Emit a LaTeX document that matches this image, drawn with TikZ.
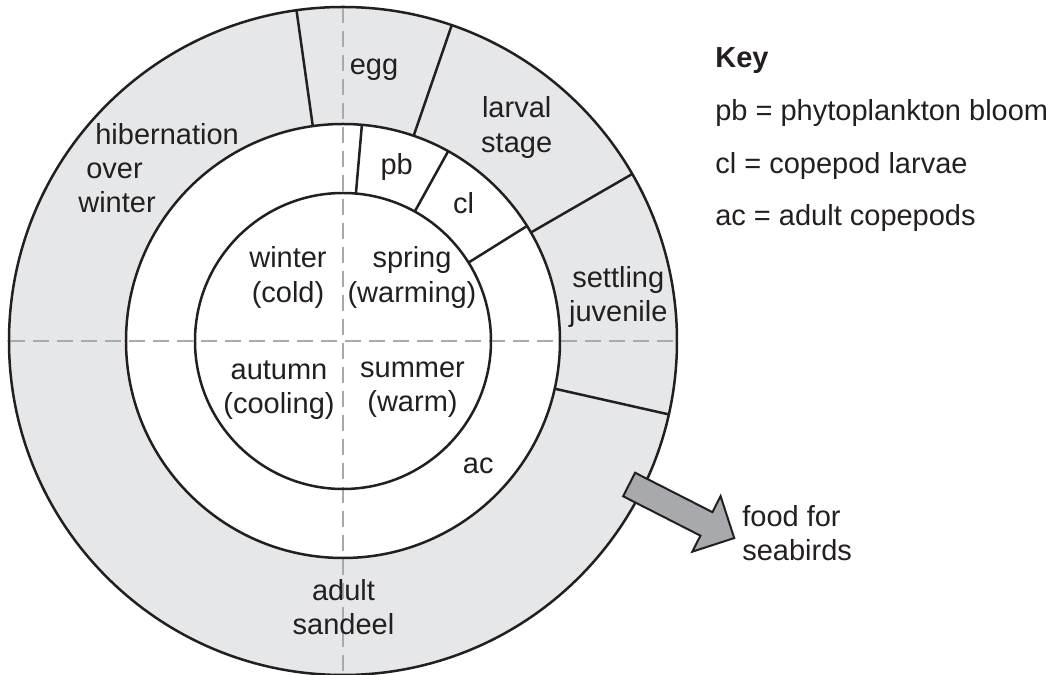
\documentclass[tikz,border=0pt]{standalone}
\usepackage{fontspec}
\setmainfont{Liberation Sans}
\usepackage{tikz}
\usetikzlibrary{shapes.arrows, positioning}

\definecolor{ink}{RGB}{35,31,32}
\definecolor{ringgray}{RGB}{230,231,232}
\definecolor{dashgray}{RGB}{167,169,172}
\definecolor{arrowgray}{RGB}{167,169,172}

\begin{document}
\begin{tikzpicture}[
		x=0.02cm, y=0.02cm,
		stagetext/.style={
			font=\fontsize{16.5}{19.4}\selectfont,
			text=ink,
			inner sep=0pt,
			align=center
		},
		keytext/.style={
			stagetext,
			anchor=base west
		},
		divider/.style={
			draw=ink,
			line width=0.05cm
		},
		season/.style={
			draw=dashgray,
			line width=0.05cm,
			dash pattern=on 0.32cm off 0.16cm
		},
		feed/.style={
			single arrow,
			draw=ink,
			fill=arrowgray,
			line width=0.04cm,
			inner xsep=0pt,
			inner ysep=0.244cm,
			minimum height=2.36cm,
			single arrow head extend=0.36cm
		}
	]

	\useasboundingbox (-343,-334) rectangle (713,341);

	\fill[ringgray] (0,0) circle[radius=334];
	\fill[white] (0,0) circle[radius=217];

	\draw[season] (90:334) -- (270:334);
	\draw[season] (180:334) -- (0:334);

	\draw[divider] (0,0) circle[radius=334];
	\draw[divider] (0,0) circle[radius=217];
	\draw[divider] (0,0) circle[radius=148];
	\foreach \a in {98,71,30,-12.7}
		\draw[divider] (\a:217) -- (\a:334);
	\foreach \a in {85,61,32}
		\draw[divider] (\a:148) -- (\a:217);

	\node[feed, rotate=-27] (feedarrow) at (332.8,-167.3) {};

	\node[stagetext] (winter) at (-55,63.5) {winter\\(cold)};
	\node[stagetext] (spring) at (69,63.5) {spring\\(warming)};
	\node[stagetext] (autumn) at (-64,-49) {autumn\\(cooling)};
	\node[stagetext] (summer) at (69.5,-49) {summer\\(warm)};

	\node[stagetext, anchor=base] (pb) at (53.7,166) {pb};
	\node[stagetext, anchor=base] (cl) at (120.7,127.7) {cl};
	\node[stagetext, anchor=base] (ac) at (135.3,-132.3) {ac};

	\node[stagetext, anchor=base] (egg) at (31,266) {egg};
	\node[stagetext] (larval) at (173.7,213.5) {larval\\stage};
	\node[stagetext] (settling) at (275.3,44.3) {settling\\juvenile};
	\node[stagetext] (adult) at (0.5,-266) {adult\\sandeel};
	\node[stagetext, anchor=west, align=left] (hibernation) at (-265,172.5)
		{\hspace*{0.34cm}hibernation\\\hspace*{0.16cm}over\\winter};

	\node[stagetext, anchor=west, align=left] (food) at (399,-192) {food for\\seabirds};

	\node[keytext] (key) at (372,273) {\textbf{Key}};
	\node[keytext] (keypb) at ([yshift=-1.06cm]key.base west) {pb = phytoplankton bloom};
	\node[keytext] (keycl) at ([yshift=-1.06cm]keypb.base west) {cl = copepod larvae};
	\node[keytext] (keyac) at ([yshift=-1.04cm]keycl.base west) {ac = adult copepods};

\end{tikzpicture}
\end{document}
